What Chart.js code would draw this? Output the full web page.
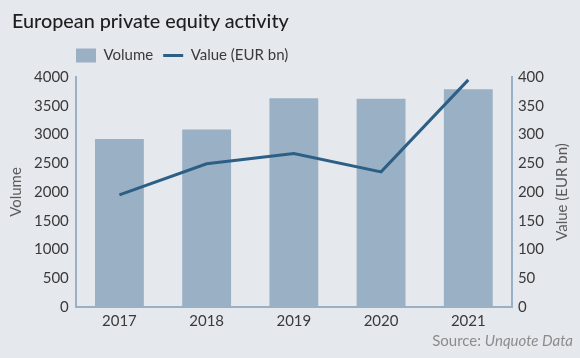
<!DOCTYPE html>
<html>
<head>
<meta charset="utf-8">
<script src="https://cdn.jsdelivr.net/npm/chart.js@4/dist/chart.umd.min.js"></script>
<style>
  html, body { margin: 0; padding: 0; background: #e5e8ed; }
  #wrap { position: relative; width: 580px; height: 358px; background: #e5e8ed; overflow: hidden; }
  #title { position: absolute; left: 12px; top: 8px; font-family: Lato, sans-serif; font-size: 19.8px; font-weight: 500; color: #1e1e1e; white-space: nowrap; }
  #source { position: absolute; right: 7px; top: 331px; font-family: Lato, sans-serif; font-size: 15px; color: #8c8c8c; white-space: nowrap; }
  #source i { font-style: italic; }
  canvas { position: absolute; left: 0; top: 0; }
</style>
</head>
<body>
<div id="wrap">
  <canvas id="c" width="580" height="358"></canvas>
  <div id="title">European private equity activity</div>
  <div id="source">Source: <i>Unquote Data</i></div>
</div>
<script>
const categories = ['2017', '2018', '2019', '2020', '2021'];
const volumeValues = [2920, 3085, 3630, 3620, 3785];
const valueEURbn = [195, 249, 267, 235, 395];
const volumeTicks = [0, 500, 1000, 1500, 2000, 2500, 3000, 3500, 4000];
const valueTicks = [0, 50, 100, 150, 200, 250, 300, 350, 400];
const leftAxisTitle = 'Volume';
const rightAxisTitle = 'Value (EUR bn)';

const BAR = '#9ab0c4';
const LINE = '#2d5f86';
const AXIS = '#9ab0c4';
const TXT = '#3a3a3a';
const TITLE_TXT = '#5a5a5a';
const FONT = 'Lato, sans-serif';

const tweaks = {
  id: 'tweaks',
  afterInit(chart) {
    const lg = chart.legend;
    if (lg) {
      const origFit = lg.fit;
      lg.fit = function () { origFit.call(this); this.height += 4; };
    }
  },
  afterLayout(chart) {
    if (chart.legend) chart.legend.left = 66;
  },
  afterDraw(chart) {
    const ctx = chart.ctx;
    const a = chart.chartArea;
    ctx.save();
    ctx.fillStyle = TITLE_TXT;
    ctx.font = '15px ' + FONT;
    ctx.textAlign = 'center';
    ctx.textBaseline = 'middle';
    ctx.translate(chart.scales.y1.right + 12, (a.top + a.bottom) / 2);
    ctx.rotate(-Math.PI / 2);
    ctx.fillText(rightAxisTitle, 0, 0);
    ctx.restore();
  }
};

new Chart(document.getElementById('c'), {
  data: {
    labels: categories,
    datasets: [
      {
        type: 'line',
        label: 'Value (EUR bn)',
        data: valueEURbn,
        yAxisID: 'y1',
        borderColor: LINE,
        backgroundColor: LINE,
        borderWidth: 3,
        pointRadius: 0,
        pointStyle: 'line',
        tension: 0,
        order: 0
      },
      {
        type: 'bar',
        label: 'Volume',
        data: volumeValues,
        yAxisID: 'y',
        backgroundColor: BAR,
        borderWidth: 0,
        pointStyle: 'rect',
        barPercentage: 0.56,
        categoryPercentage: 1,
        order: 1
      }
    ]
  },
  options: {
    responsive: false,
    animation: false,
    layout: { padding: { top: 38, bottom: 23, left: 5, right: 30 } },
    plugins: {
      tooltip: { enabled: false },
      legend: {
        position: 'top',
        align: 'start',
        reverse: true,
        labels: {
          usePointStyle: true,
          pointStyleWidth: 20,
          boxHeight: 14,
          color: TXT,
          font: { family: FONT, size: 15 },
          padding: 10
        }
      }
    },
    scales: {
      x: {
        grid: { display: false, drawTicks: false },
        border: { display: true, color: AXIS, width: 2 },
        ticks: { color: TXT, font: { family: FONT, size: 15 }, padding: 5 }
      },
      y: {
        position: 'left',
        min: 0, max: 4000,
        afterBuildTicks(scale) { scale.ticks = volumeTicks.map(v => ({ value: v })); },
        grid: { display: false, drawTicks: false },
        border: { display: true, color: AXIS, width: 2 },
        ticks: { color: TXT, font: { family: FONT, size: 15 }, padding: 7, callback: (v) => String(v) },
        title: { display: true, text: leftAxisTitle, color: TITLE_TXT, font: { family: FONT, size: 15 }, padding: { top: 2, bottom: 2 } }
      },
      y1: {
        position: 'right',
        min: 0, max: 400,
        afterBuildTicks(scale) { scale.ticks = valueTicks.map(v => ({ value: v })); },
        grid: { display: false, drawTicks: false },
        border: { display: true, color: AXIS, width: 2 },
        ticks: { color: TXT, font: { family: FONT, size: 15 }, padding: 6, callback: (v) => String(v) }
      }
    }
  },
  plugins: [tweaks]
});
</script>
</body>
</html>
